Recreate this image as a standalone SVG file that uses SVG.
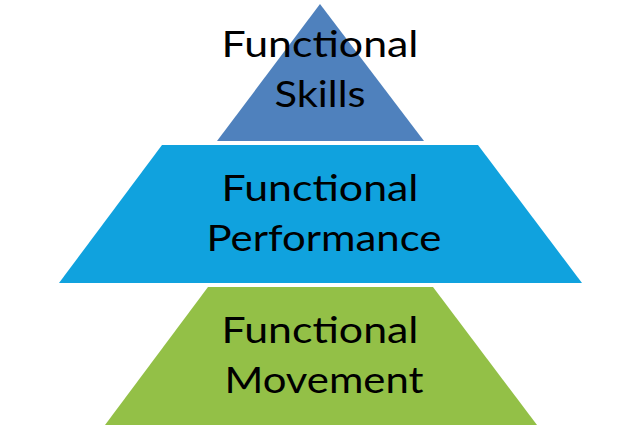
<svg xmlns="http://www.w3.org/2000/svg" width="640" height="429" viewBox="0 0 640 429">
<style>
.t{font-family:Lato,"Open Sans",sans-serif;font-size:37px;fill:#000;text-anchor:middle}
</style>
<rect width="640" height="429" fill="#fff"/>
<g id="skills">
<polygon points="320,4 424,141 217,141" fill="#4F81BD"/>
<text class="t" x="320" y="57" textLength="197" lengthAdjust="spacingAndGlyphs">Functional</text>
<text class="t" x="320" y="107" textLength="91" lengthAdjust="spacingAndGlyphs">Skills</text>
</g>
<g id="performance">
<polygon points="162,145 478,145 582,283 59,283" fill="#10A2DE"/>
<text class="t" x="320" y="201" textLength="197" lengthAdjust="spacingAndGlyphs">Functional</text>
<text class="t" x="324" y="251" textLength="235" lengthAdjust="spacingAndGlyphs">Performance</text>
</g>
<g id="movement">
<polygon points="208,287 433,287 537,425 105,425" fill="#93C047"/>
<text class="t" x="320" y="343" textLength="197" lengthAdjust="spacingAndGlyphs">Functional</text>
<text class="t" x="324" y="393" textLength="199" lengthAdjust="spacingAndGlyphs">Movement</text>
</g>
<g id="connectors"/>
</svg>
